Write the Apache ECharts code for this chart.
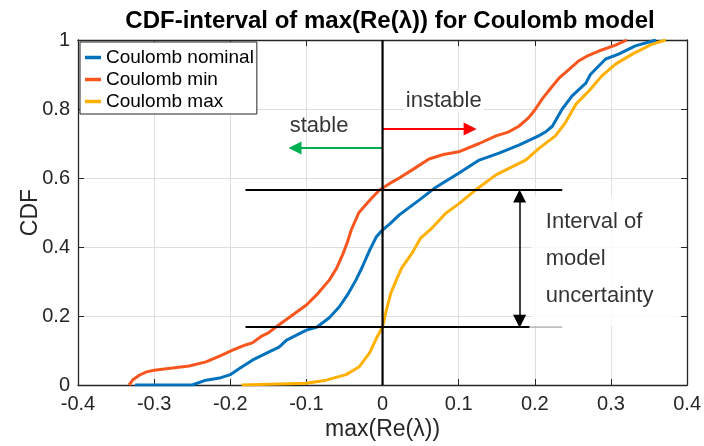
<!DOCTYPE html>
<html><head><meta charset="utf-8">
<script src="https://cdn.jsdelivr.net/npm/echarts@6/dist/echarts.min.js"></script>
<style>html,body{margin:0;padding:0;background:#fff}#c{width:704px;height:446px}</style>
</head><body><div id="c"></div>
<script>
// ---- data ----
const xTickLabels = ['-0.4','-0.3','-0.2','-0.1','0','0.1','0.2','0.3','0.4'];
const yTickLabels = ['0','0.2','0.4','0.6','0.8','1'];
const seriesNames = ['Coulomb nominal','Coulomb min','Coulomb max'];

const nominalPts = [[-0.325,0],[-0.25,0],[-0.232,0.014],[-0.214,0.02],[-0.2,0.03],[-0.188,0.048],[-0.171,0.072],[-0.149,0.096],[-0.136,0.11],[-0.126,0.13],[-0.1,0.159],[-0.086,0.168],[-0.07,0.195],[-0.057,0.226],[-0.045,0.265],[-0.035,0.304],[-0.026,0.345],[-0.016,0.395],[-0.008,0.43],[-0.002,0.445],[0.01,0.468],[0.022,0.493],[0.048,0.536],[0.068,0.57],[0.1,0.614],[0.127,0.652],[0.153,0.672],[0.179,0.695],[0.205,0.722],[0.215,0.735],[0.223,0.75],[0.236,0.8],[0.249,0.838],[0.267,0.875],[0.273,0.9],[0.293,0.945],[0.31,0.959],[0.332,0.983],[0.359,1.0]];

const minPts = [[-0.333,0],[-0.328,0.015],[-0.319,0.029],[-0.31,0.038],[-0.3,0.043],[-0.276,0.049],[-0.254,0.055],[-0.232,0.067],[-0.214,0.084],[-0.197,0.101],[-0.18,0.116],[-0.171,0.122],[-0.16,0.14],[-0.15,0.151],[-0.14,0.168],[-0.12,0.2],[-0.1,0.232],[-0.085,0.265],[-0.07,0.304],[-0.06,0.34],[-0.052,0.38],[-0.046,0.415],[-0.041,0.45],[-0.031,0.5],[-0.015,0.54],[-0.004,0.565],[0.01,0.585],[0.022,0.6],[0.04,0.625],[0.061,0.655],[0.08,0.668],[0.1,0.676],[0.127,0.70],[0.149,0.722],[0.165,0.733],[0.179,0.75],[0.192,0.775],[0.2,0.797],[0.21,0.83],[0.219,0.855],[0.232,0.89],[0.245,0.915],[0.258,0.94],[0.27,0.955],[0.284,0.968],[0.306,0.985],[0.321,1.0]];

const maxPts = [[-0.185,0],[-0.1,0.005],[-0.074,0.014],[-0.048,0.03],[-0.031,0.052],[-0.017,0.093],[-0.007,0.14],[0,0.168],[0.005,0.217],[0.011,0.267],[0.018,0.304],[0.025,0.339],[0.039,0.383],[0.05,0.426],[0.065,0.455],[0.083,0.498],[0.1,0.525],[0.122,0.565],[0.149,0.609],[0.17,0.632],[0.188,0.652],[0.205,0.685],[0.227,0.722],[0.24,0.76],[0.254,0.814],[0.271,0.852],[0.288,0.896],[0.306,0.93],[0.328,0.959],[0.354,0.988],[0.372,1.0]];

// annotations (data coordinates)
const zeroLine = [[0,0],[0,1]];
const upperLevel = [[-0.18,0.565],[0.236,0.565]];
const lowerLevel = [[-0.18,0.168],[0.193,0.168]];
const lowerLevelGrey = [[0.193,0.168],[0.236,0.168]];
const intervalArrow = [[0.18,0.185],[0.18,0.548]];
const instableArrow = [[0,0.742],[0.115,0.742]];
const stableArrow = [[0,0.687],[-0.115,0.687]];
const stableText = {pos:[-0.122,0.752], text:'stable'};
const instableText = {pos:[0.028,0.823], text:'instable'};
const intervalText = {pos:[0.196,0.55], text:'Interval of\nmodel\nuncertainty'};

// ---- chart ----
const FONT = 'Liberation Sans, Arial, Helvetica, sans-serif';
const AX = '#262626';
const chart = echarts.init(document.getElementById('c'), null, {renderer:'canvas'});

function xFmt(v){ return xTickLabels[Math.round((v+0.4)/0.1)]; }
function yFmt(v){ return yTickLabels[Math.round(v/0.2)]; }

function lineSeries(name, data, color, width, z){
  return {type:'line', name:name, data:data, showSymbol:false, symbol:'none', silent:true,
    lineStyle:{color:color, width:width}, itemStyle:{color:color}, z:z, animation:false};
}
function arrowSeries(pts, color, width, symbols, size){
  return {type:'line', data:[], silent:true, z:6,
    markLine:{silent:true, animation:false, symbol:symbols, symbolSize:size,
      label:{show:false}, lineStyle:{color:color, width:width, type:'solid'},
      emphasis:{disabled:true},
      data:[[{coord:pts[0]},{coord:pts[1]}]]}};
}
function textSeries(t, opts){
  return {type:'scatter', data:[{value:t.pos, name:t.text}], symbolSize:0, silent:true, z:8,
    label:Object.assign({show:true, formatter:'{b}', position:[0,0], align:'left', verticalAlign:'middle',
      color:'#000', fontFamily:FONT, fontSize:22}, opts)};
}

const option = {
  animation:false,
  backgroundColor:'#fff',
  title:{text:'CDF-interval of max(Re(λ)) for Coulomb model', left:385, top:4, textAlign:'center',
    textStyle:{fontFamily:FONT, fontSize:24, fontWeight:'bold', color:'#000'}},
  legend:{data:seriesNames, orient:'vertical', left:80, top:42, icon:'rect', itemWidth:16, itemHeight:3.5,
    itemGap:3, padding:[6,3,3,5], backgroundColor:'#fff', borderColor:AX, borderWidth:1,
    textStyle:{fontFamily:FONT, fontSize:19, color:'#000'}, selectedMode:false},
  grid:{left:78, right:16, top:40, bottom:61, containLabel:false},
  xAxis:[
    {type:'value', min:-0.4, max:0.4, interval:0.1, position:'bottom',
     name:'max(Re(λ))', nameLocation:'middle', nameGap:33, nameMoveOverlap:false,
     nameTextStyle:{fontFamily:FONT, fontSize:23, color:AX},
     axisLine:{show:true, onZero:false, lineStyle:{color:AX, width:1.3}},
     axisTick:{show:true, inside:true, length:6, lineStyle:{color:AX}},
     axisLabel:{formatter:xFmt, fontFamily:FONT, fontSize:20, color:AX, margin:9},
     splitLine:{show:true, lineStyle:{color:'#dedede', width:1}}},
    {type:'value', min:-0.4, max:0.4, interval:0.1, position:'top',
     axisLine:{show:true, onZero:false, lineStyle:{color:AX, width:1.3}},
     axisTick:{show:true, inside:true, length:6, lineStyle:{color:AX}},
     axisLabel:{show:false}, splitLine:{show:false}}
  ],
  yAxis:[
    {type:'value', min:0, max:1, interval:0.2, position:'left',
     name:'CDF', nameLocation:'middle', nameGap:36, nameMoveOverlap:false,
     nameTextStyle:{fontFamily:FONT, fontSize:23, color:AX},
     axisLine:{show:true, onZero:false, lineStyle:{color:AX, width:1.3}},
     axisTick:{show:true, inside:true, length:6, lineStyle:{color:AX}},
     axisLabel:{formatter:yFmt, fontFamily:FONT, fontSize:20, color:AX, margin:8},
     splitLine:{show:true, lineStyle:{color:'#dedede', width:1}}},
    {type:'value', min:0, max:1, interval:0.2, position:'right',
     axisLine:{show:true, onZero:false, lineStyle:{color:AX, width:1.3}},
     axisTick:{show:true, inside:true, length:6, lineStyle:{color:AX}},
     axisLabel:{show:false}, splitLine:{show:false}}
  ],
  series:[
    lineSeries(seriesNames[1], minPts, '#F8561E', 3, 3),
    lineSeries(seriesNames[0], nominalPts, '#0072BD', 3, 4),
    lineSeries(seriesNames[2], maxPts, '#FFB000', 3, 3),
    lineSeries('zero', zeroLine, '#000', 2.2, 5),
    lineSeries('upper', upperLevel, '#000', 2, 5),
    lineSeries('lower', lowerLevel, '#000', 2, 5),
    lineSeries('lowerGrey', lowerLevelGrey, '#888', 1, 5),
    arrowSeries(intervalArrow, '#000', 1.5, ['triangle','triangle'], [13,13]),
    arrowSeries(instableArrow, '#FF0000', 2, ['none','triangle'], [13,13]),
    arrowSeries(stableArrow, '#00B050', 2, ['none','triangle'], [13,13]),
    textSeries(stableText, {}),
    textSeries(instableText, {backgroundColor:'#fff', padding:[0,2]}),
    textSeries(intervalText, {verticalAlign:'top', lineHeight:37, backgroundColor:'#fff', padding:[8,26,12,14]})
  ]
};
chart.setOption(option);
</script>
</body></html>
